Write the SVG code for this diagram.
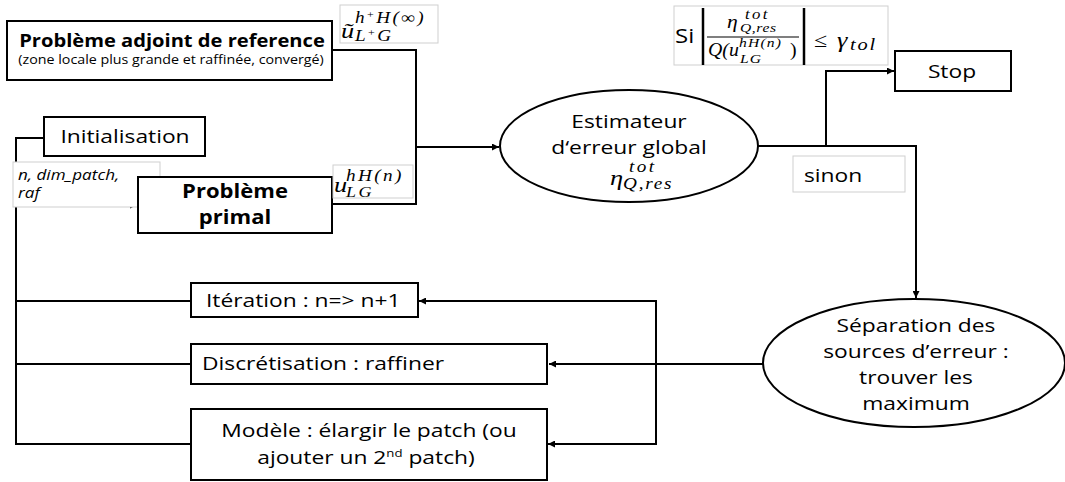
<svg xmlns="http://www.w3.org/2000/svg" width="1065" height="482" viewBox="0 0 1065 482">
<defs>
<marker id="arr" viewBox="0 0 10 10" refX="10" refY="5" markerWidth="8" markerHeight="7" markerUnits="userSpaceOnUse" orient="auto">
<path d="M0,0 L10,5 L0,10 z" fill="#000"/>
</marker>
<style>
.box{fill:#fff;stroke:#000;stroke-width:2}
.lbl{fill:#fff;stroke:#cfcfcf;stroke-width:1}
.ln{fill:none;stroke:#000;stroke-width:2}
.t{font-family:"Open Sans","Liberation Sans",sans-serif;font-size:19px;fill:#000}
.b{font-weight:bold}
.c{text-anchor:middle}
.m{font-family:"Liberation Serif","DejaVu Serif",serif;font-style:italic;fill:#000}
.mn{font-family:"Liberation Serif","DejaVu Serif",serif;font-style:normal;fill:#000}
</style>
</defs>
<rect width="1065" height="482" fill="#fff"/>

<g id="connectors">
<polyline class="ln" points="332,50 416,50 416,204 332,204"/>
<line class="ln" x1="416" y1="147" x2="499" y2="147" marker-end="url(#arr)"/>
<polyline class="ln" points="44,138 16,138 16,444 191,444"/>
<line class="ln" x1="16" y1="205" x2="137" y2="205" marker-end="url(#arr)"/>
<line class="ln" x1="16" y1="301" x2="191" y2="301"/>
<line class="ln" x1="16" y1="364" x2="191" y2="364"/>
<polyline class="ln" points="758,146 916,146 916,298" marker-end="url(#arr)"/>
<polyline class="ln" points="826,146 826,71 894,71" marker-end="url(#arr)"/>
<line class="ln" x1="763" y1="364" x2="549" y2="364" marker-end="url(#arr)"/>
<polyline class="ln" points="656,364 656,301 419,301" marker-end="url(#arr)"/>
<polyline class="ln" points="656,364 656,444 548,444" marker-end="url(#arr)"/>
</g>

<g id="adjoint">
<rect class="box" x="7" y="21" width="325" height="59"/>
<text class="t b c" transform="translate(172,47) scale(1.15,1)" style="font-size:17.5px">Problème adjoint de reference</text>
<text class="t c" transform="translate(171,64) scale(1.19,1)" style="font-size:12px">(zone locale plus grande et raffinée, convergé)</text>
</g>

<g id="label-adjoint">
<rect class="lbl" x="340" y="5" width="98" height="38"/>
<text class="m" transform="translate(341,38) scale(1.2,1)" style="font-size:22px">ũ</text>
<text class="m" transform="translate(355,23) scale(1.2,1)" style="font-size:16px;letter-spacing:2px">h<tspan class="mn" style="font-size:10px" dy="-5">+</tspan><tspan dy="5">H(∞)</tspan></text>
<text class="m" transform="translate(355,41) scale(1.2,1)" style="font-size:16px;letter-spacing:2px">L<tspan class="mn" style="font-size:10px" dy="-5">+</tspan><tspan dy="5">G</tspan></text>
</g>

<g id="initialisation">
<rect class="box" x="44" y="117" width="161" height="39"/>
<text class="t c" transform="translate(125,143) scale(1.2,1)">Initialisation</text>
</g>

<g id="label-init">
<rect class="lbl" x="13" y="162" width="147" height="45"/>
<text class="t" transform="translate(18,180) scale(1.22,1)" style="font-size:14px;font-style:italic">n, dim_patch,</text>
<text class="t" transform="translate(18,198) scale(1.22,1)" style="font-size:14px;font-style:italic">raf</text>
</g>

<g id="primal">
<rect class="box" x="138" y="177" width="194" height="56"/>
<text class="t b c" transform="translate(235,198) scale(1.16,1)">Problème</text>
<text class="t b c" transform="translate(235,224) scale(1.16,1)">primal</text>
</g>

<g id="label-primal">
<rect class="lbl" x="333" y="165" width="80" height="33"/>
<text class="m" transform="translate(334,192) scale(1.2,1)" style="font-size:22px">u</text>
<text class="m" transform="translate(346,181) scale(1.2,1)" style="font-size:16px;letter-spacing:2px">hH(n)</text>
<text class="m" transform="translate(346,197) scale(1.2,1)" style="font-size:15px;letter-spacing:2px">LG</text>
</g>

<g id="estimateur">
<ellipse class="box" cx="629" cy="146" rx="129" ry="56"/>
<text class="t c" transform="translate(629,128) scale(1.2,1)">Estimateur</text>
<text class="t c" transform="translate(629,154) scale(1.2,1)">d‘erreur global</text>
<text class="m" transform="translate(610,185) scale(1.2,1)" style="font-size:22px">η</text>
<text class="m" transform="translate(629,172) scale(1.2,1)" style="font-size:16px;letter-spacing:2px">tot</text>
<text class="m" transform="translate(623,189) scale(1.2,1)" style="font-size:16px;letter-spacing:1.5px">Q,res</text>
</g>

<g id="label-si">
<rect class="lbl" x="674" y="6" width="214" height="59"/>
<text class="t" transform="translate(675,43) scale(1.2,1)" style="font-size:20px">Si</text>
<line x1="703" y1="8" x2="703" y2="65" stroke="#000" stroke-width="2.5"/>
<line x1="804" y1="8" x2="804" y2="65" stroke="#000" stroke-width="2.5"/>
<text class="m" transform="translate(727,28) scale(1.2,1)" style="font-size:18px">η</text>
<text class="m" transform="translate(745,19) scale(1.2,1)" style="font-size:14px;letter-spacing:2px">tot</text>
<text class="m" transform="translate(740,32) scale(1.2,1)" style="font-size:13px;letter-spacing:0.5px">Q,res</text>
<line x1="707" y1="37" x2="799" y2="37" stroke="#000" stroke-width="1.2"/>
<text class="m" transform="translate(708,56) scale(1.1,1)" style="font-size:18px">Q(u</text>
<text class="m" transform="translate(739,47) scale(1.2,1)" style="font-size:13px;letter-spacing:1px">hH(n)</text>
<text class="m" transform="translate(740,63) scale(1.2,1)" style="font-size:13px;letter-spacing:1px">LG</text>
<text class="mn" transform="translate(790,56) scale(1.1,1)" style="font-size:18px">)</text>
<text class="mn" transform="translate(814,47) scale(1.2,1)" style="font-size:20px">≤</text>
<text class="m" transform="translate(837,47) scale(1.2,1)" style="font-size:22px">γ</text>
<text class="m" transform="translate(850,50) scale(1.2,1)" style="font-size:17px;letter-spacing:1.5px">tol</text>
</g>

<g id="stop">
<rect class="box" x="895" y="51" width="116" height="40"/>
<text class="t c" transform="translate(952,78) scale(1.2,1)">Stop</text>
</g>

<g id="label-sinon">
<rect class="lbl" x="793" y="156" width="112" height="36"/>
<text class="t" transform="translate(804,182) scale(1.2,1)">sinon</text>
</g>

<g id="separation">
<ellipse class="box" cx="914" cy="363" rx="151" ry="64"/>
<text class="t c" transform="translate(916,332) scale(1.2,1)">Séparation des</text>
<text class="t c" transform="translate(916,358) scale(1.2,1)">sources d’erreur :</text>
<text class="t c" transform="translate(916,384) scale(1.2,1)">trouver les</text>
<text class="t c" transform="translate(916,410) scale(1.2,1)">maximum</text>
</g>

<g id="iteration">
<rect class="box" x="191" y="283" width="227" height="34"/>
<text class="t" transform="translate(206,307) scale(1.2,1)">Itération : n=&gt; n+1</text>
</g>

<g id="discretisation">
<rect class="box" x="191" y="344" width="356" height="40"/>
<text class="t" transform="translate(202,370) scale(1.2,1)">Discrétisation : raffiner</text>
</g>

<g id="modele">
<rect class="box" x="191" y="409" width="356" height="71"/>
<text class="t c" transform="translate(369,437) scale(1.2,1)">Modèle : élargir le patch (ou</text>
<text class="t c" transform="translate(366,464) scale(1.2,1)">ajouter un 2<tspan style="font-size:11px" dy="-7">nd</tspan><tspan dy="7"> patch)</tspan></text>
</g>
</svg>
